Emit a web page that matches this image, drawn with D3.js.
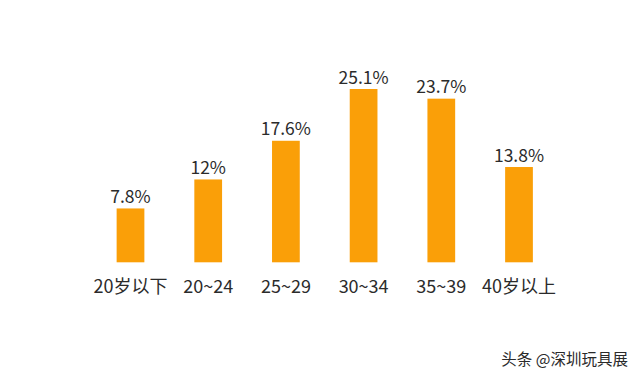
<!DOCTYPE html>
<html><head><meta charset="utf-8">
<script src="https://cdn.jsdelivr.net/npm/d3@7"></script>
<style>html,body{margin:0;padding:0;background:#fff;}svg{display:block;}</style>
</head><body>
<svg id="c" width="640" height="377"></svg>
<script>
const categories = ["20岁以下", "20~24", "25~29", "30~34", "35~39", "40岁以上"];
const values = [7.8, 12, 17.6, 25.1, 23.7, 13.8];
const valueLabels = ["7.8%", "12%", "17.6%", "25.1%", "23.7%", "13.8%"];

const svg = d3.select("#c");
const W = 640, H = 377;
svg.append("rect").attr("width", W).attr("height", H).attr("fill", "#fff");

const x = d3.scaleBand().domain(categories).range([91.65, 557.85]).paddingInner(0.643).paddingOuter(0.3215);
const y = d3.scaleLinear().domain([0, 25.1]).range([262.3, 89]);

const font = "'Noto Sans CJK SC', 'Noto Sans', sans-serif";

svg.append("g").selectAll("rect").data(values).join("rect")
  .attr("x", (d, i) => x(categories[i]))
  .attr("y", d => y(d))
  .attr("width", x.bandwidth())
  .attr("height", d => y(0) - y(d))
  .attr("fill", "#FA9F08");

svg.append("g").selectAll("text").data(values).join("text")
  .attr("x", (d, i) => x(categories[i]) + x.bandwidth() / 2)
  .attr("y", d => y(d) - 5.5)
  .attr("text-anchor", "middle")
  .attr("font-family", font)
  .attr("font-size", 17.5)
  .attr("fill", "#2b2b2b")
  .text((d, i) => valueLabels[i]);

const axis = d3.axisBottom(x).tickSize(0).tickPadding(0);
const ax = svg.append("g").attr("transform", `translate(0,${y(0)})`).call(axis);
ax.select(".domain").remove();
ax.selectAll("text")
  .attr("dy", null)
  .attr("y", 30.5)
  .attr("font-family", font)
  .attr("font-size", 18)
  .attr("fill", "#2b2b2b");

svg.append("text")
  .attr("x", 628).attr("y", 365)
  .attr("text-anchor", "end")
  .attr("font-family", font)
  .attr("font-size", 15.5)
  .attr("fill", "#2a2a2a")
  .text("头条 @深圳玩具展");
</script>
</body></html>
